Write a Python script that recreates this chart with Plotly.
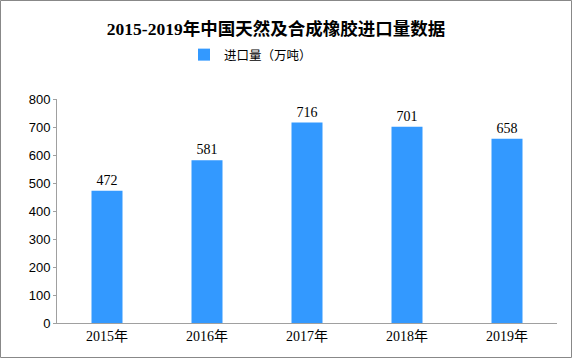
import plotly.graph_objects as go

years = ["2015年", "2016年", "2017年", "2018年", "2019年"]
imports = [472, 581, 716, 701, 658]
y_ticks = [0, 100, 200, 300, 400, 500, 600, 700, 800]

W, H = 572, 358
L, R, T, B = 57, 15, 99, 35
pw, ph = W - L - R, H - T - B

fig = go.Figure()
fig.add_trace(go.Bar(
    x=years, y=imports, name="进口量（万吨）",
    marker=dict(color="#3399ff", line=dict(width=0)),
    width=0.31,
    text=[str(v) for v in imports], textposition="outside",
    textfont=dict(family="Liberation Serif, Noto Sans CJK SC", size=14, color="#000"),
    cliponaxis=False,
))

fig.update_layout(
    width=W, height=H,
    margin=dict(l=L, r=R, t=T, b=B, autoexpand=False),
    paper_bgcolor="white", plot_bgcolor="white",
    title=dict(text="<b>2015-2019年中国天然及合成橡胶进口量数据</b>",
               font=dict(family="Liberation Serif, Noto Sans CJK SC", size=17.5, color="#000"),
               x=(276 - L) / pw, xref="paper", xanchor="center",
               y=1 - 29 / H, yref="container", yanchor="middle"),
    showlegend=True,
    legend=dict(orientation="h", x=(184 - L) / pw, xanchor="left", y=1 + 44 / ph, yanchor="middle",
                font=dict(family="Noto Sans CJK SC", size=12.5, color="#000"),
                itemwidth=30, bgcolor="rgba(0,0,0,0)"),
    bargap=0.69,
    xaxis=dict(showline=True, linecolor="#a0a0a0", linewidth=1, ticks="", automargin=False,
               tickfont=dict(family="Liberation Serif, Noto Sans CJK SC", size=14, color="#000")),
    yaxis=dict(range=[0, 800], tickvals=y_ticks, showline=True, linecolor="#a0a0a0", linewidth=1,
               ticks="outside", ticklen=3, tickcolor="#a0a0a0", showgrid=False, zeroline=False,
               automargin=False,
               tickfont=dict(family="Liberation Sans, Arial", size=13, color="#000")),
    shapes=[dict(type="rect", xref="paper", yref="paper",
                 x0=(-L + 0.5) / pw, x1=1 + (R - 0.5) / pw,
                 y0=(-B + 0.5) / ph, y1=1 + (T - 0.5) / ph,
                 line=dict(color="#888888", width=1), fillcolor="rgba(0,0,0,0)", layer="above")],
)

fig.write_html("out.html", config={"displayModeBar": False},
               post_script="document.body.style.margin='0';")
